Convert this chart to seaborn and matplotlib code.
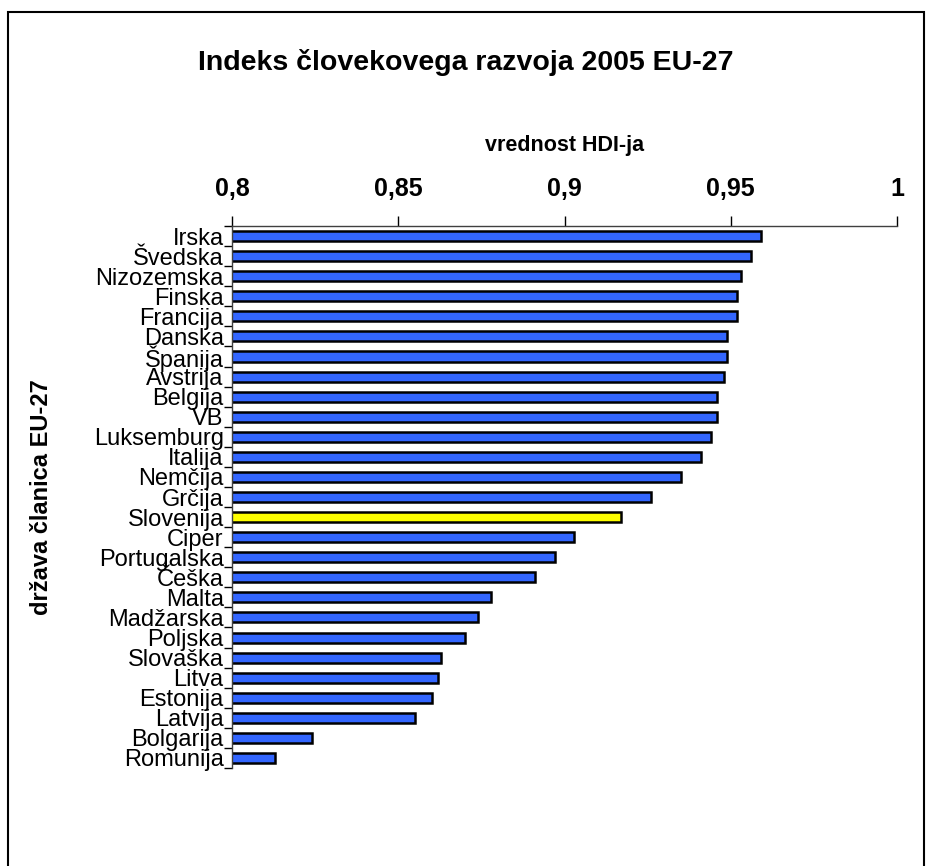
import matplotlib
matplotlib.use("Agg")
import matplotlib.pyplot as plt
import numpy as np
import pandas as pd
import seaborn as sns
from matplotlib.patches import Rectangle

# drzave EU-27 in vrednosti HDI (2005)
drzave = ["Irska", "Švedska", "Nizozemska", "Finska", "Francija", "Danska",
          "Španija", "Avstrija", "Belgija", "VB", "Luksemburg", "Italija",
          "Nemčija", "Grčija", "Slovenija", "Ciper", "Portugalska", "Češka",
          "Malta", "Madžarska", "Poljska", "Slovaška", "Litva", "Estonija",
          "Latvija", "Bolgarija", "Romunija"]
hdi = [0.959, 0.956, 0.953, 0.952, 0.952, 0.949, 0.949, 0.948, 0.946, 0.946,
       0.944, 0.941, 0.935, 0.926, 0.917, 0.903, 0.897, 0.891, 0.878, 0.874,
       0.870, 0.863, 0.862, 0.860, 0.855, 0.824, 0.813]
x_ticks = [0.8, 0.85, 0.9, 0.95, 1.0]
x_tick_labels = ["0,8", "0,85", "0,9", "0,95", "1"]
poudarek = "Slovenija"

sns.set_style("white")
plt.rcParams["font.family"] = ["Liberation Sans", "DejaVu Sans"]
plt.rcParams["text.color"] = "black"
plt.rcParams["axes.labelcolor"] = "black"
plt.rcParams["xtick.color"] = "black"
plt.rcParams["ytick.color"] = "black"

df = pd.DataFrame({"drzava": drzave, "hdi": hdi})
barve = {d: ("#ffff00" if d == poudarek else "#3366ff") for d in drzave}

fig = plt.figure(figsize=(9.29, 8.66), dpi=100)
ax = fig.add_axes([232 / 929, 1 - 768 / 866, (897 - 232) / 929, (768 - 226) / 866])

sns.barplot(data=df, x="hdi", y="drzava", hue="drzava", palette=barve,
            legend=False, width=0.5, edgecolor="black", linewidth=1.8,
            saturation=1, ax=ax)

ax.set_xlim(0.8, 1.0)
ax.set_ylim(len(drzave) - 0.5, -0.5)

# os x zgoraj
ax.xaxis.tick_top()
ax.xaxis.set_label_position("top")
ax.set_xticks(x_ticks)
ax.set_xticklabels(x_tick_labels, fontsize=18, fontweight="bold")
ax.tick_params(axis="x", direction="out", length=7, width=1, pad=11, top=True)
ax.set_xlabel("vrednost HDI-ja", fontsize=15.5, fontweight="bold", labelpad=19)

# kategorije - kljukice med njimi (kot v Excelu)
ax.set_yticks(np.arange(len(drzave)))
ax.set_yticklabels(drzave, fontsize=17)
ax.tick_params(axis="y", which="major", length=0, pad=6)
ax.set_yticks(np.arange(-0.5, len(drzave), 1), minor=True)
ax.tick_params(axis="y", which="minor", direction="out", length=6, width=1, left=True)
ax.set_ylabel("država članica EU-27", fontsize=17, fontweight="bold")
ax.yaxis.set_label_coords(-(232 - 53) / (897 - 232), 0.5)

for s in ["right", "bottom"]:
    ax.spines[s].set_visible(False)
for s in ["top", "left"]:
    ax.spines[s].set_color("#404040")
    ax.spines[s].set_linewidth(1)

fig.text(0.5 + 1 / 929, 1 - 62 / 866, "Indeks človekovega razvoja 2005 EU-27",
         ha="center", va="center", fontsize=20.5, fontweight="bold")

# okvir grafikona
fig.patches.append(Rectangle((8 / 929, -0.05), (924 - 8) / 929, 1 - 12 / 866 + 0.05,
                             transform=fig.transFigure, fill=False,
                             edgecolor="black", linewidth=1.5))

fig.savefig("out.png", dpi=100)
